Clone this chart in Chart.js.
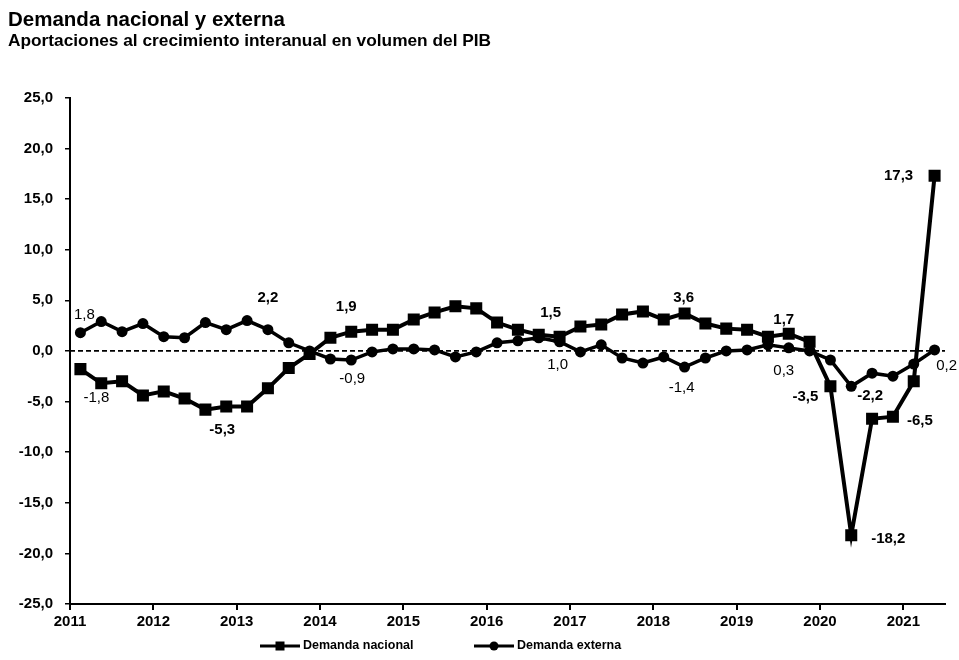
<!DOCTYPE html>
<html>
<head>
<meta charset="utf-8">
<script src="https://cdn.jsdelivr.net/npm/chart.js@4/dist/chart.umd.min.js"></script>
<style>
  html, body { margin: 0; padding: 0; background: #fff; }
  canvas { display: block; }
</style>
</head>
<body>
<canvas id="chart" width="959" height="660"></canvas>
<script>
const anos = ['2011', '2012', '2013', '2014', '2015', '2016', '2017', '2018', '2019', '2020', '2021']
const trimestres = ['T1', 'T2', 'T3', 'T4']
const categorias = anos.flatMap(a => trimestres.map(t => a + ' ' + t)).slice(0, 42)

const demandaNacional = [
  -1.8, -3.2, -3.0, -4.4, -4.0, -4.7, -5.8, -5.5, -5.5, -3.7, -1.7, -0.3,
  1.3, 1.9, 2.1, 2.1, 3.1, 3.8, 4.4, 4.2, 2.8, 2.1, 1.6, 1.4,
  2.4, 2.6, 3.6, 3.9, 3.1, 3.7, 2.7, 2.2, 2.1, 1.4, 1.7, 0.9,
  -3.5, -18.2, -6.7, -6.5, -3.0, 17.3
]
const demandaExterna = [
  1.8, 2.9, 1.9, 2.7, 1.4, 1.3, 2.8, 2.1, 3.0, 2.1, 0.8, 0.0,
  -0.8, -0.9, -0.1, 0.2, 0.2, 0.1, -0.6, -0.1, 0.8, 1.0, 1.3, 0.9,
  -0.1, 0.6, -0.7, -1.2, -0.6, -1.6, -0.7, 0.0, 0.1, 0.6, 0.3, 0.0,
  -0.9, -3.5, -2.2, -2.5, -1.3, 0.1
]

// etiquetas de valor (indice -> texto)
const etiquetasNacional = { 0: '-1,8', 7: '-5,3', 13: '1,9', 23: '1,5', 29: '3,6', 34: '1,7', 36: '-3,5', 37: '-18,2', 39: '-6,5', 41: '17,3' }
const etiquetasExterna = { 0: '1,8', 9: '2,2', 13: '-0,9', 23: '1,0', 29: '-1,4', 34: '0,3', 38: '-2,2', 41: '0,2' }

const FONT = '"Liberation Sans", Arial, Helvetica, sans-serif'

// desplazamientos de las etiquetas respecto al punto, y peso
const posEtiquetas = [
  { 0: [16, 29, 'normal'], 7: [-4, 23, 'bold'], 13: [-5, -25, 'bold'], 23: [-9, -24, 'bold'], 29: [-1, -16, 'bold'],
    34: [-5, -14, 'bold'], 36: [-25, 11, 'bold'], 37: [37, 4, 'bold'], 39: [27, 4, 'bold'], 41: [-36, 0, 'bold'] },
  { 0: [4, -18, 'normal'], 9: [0, -32, 'bold'], 13: [1, 19, 'normal'], 23: [-2, 23, 'normal'], 29: [-3, 21, 'normal'],
    34: [-5, 23, 'normal'], 38: [-2, 23, 'bold'], 41: [12, 16, 'normal'] }
]

const lineaCero = {
  id: 'lineaCero',
  beforeDatasetsDraw(chart) {
    const { ctx, chartArea } = chart
    const y = chart.scales.y.getPixelForValue(0)
    ctx.save()
    ctx.strokeStyle = '#000'
    ctx.lineWidth = 1.8
    ctx.setLineDash([5, 3])
    ctx.beginPath()
    ctx.moveTo(chartArea.left, y)
    ctx.lineTo(chartArea.right, y)
    ctx.stroke()
    ctx.restore()
  }
}

const etiquetas = {
  id: 'etiquetas',
  afterDatasetsDraw(chart) {
    const ctx = chart.ctx
    const textos = [etiquetasNacional, etiquetasExterna]
    ctx.save()
    ctx.fillStyle = '#000'
    ctx.textAlign = 'center'
    ctx.textBaseline = 'middle'
    textos.forEach((mapa, d) => {
      const meta = chart.getDatasetMeta(d)
      Object.keys(mapa).forEach(k => {
        const p = meta.data[k]
        const [dx, dy, peso] = posEtiquetas[d][k]
        ctx.font = peso + ' 15px ' + FONT
        ctx.fillText(mapa[k], p.x + dx, p.y + dy)
      })
    })
    ctx.restore()
  }
}

const leyenda = {
  id: 'leyenda',
  afterDraw(chart) {
    const ctx = chart.ctx
    const y = 646
    const items = [
      { x: 260, style: 'rect' },
      { x: 474, style: 'circle' }
    ]
    ctx.save()
    chart.data.datasets.forEach((ds, i) => {
      const it = items[i]
      ctx.strokeStyle = '#000'
      ctx.lineWidth = 3
      ctx.beginPath()
      ctx.moveTo(it.x, y)
      ctx.lineTo(it.x + 40, y)
      ctx.stroke()
      ctx.fillStyle = '#000'
      if (it.style === 'rect') {
        ctx.fillRect(it.x + 20 - 4.5, y - 4.5, 9, 9)
      } else {
        ctx.beginPath()
        ctx.arc(it.x + 20, y, 4.5, 0, Math.PI * 2)
        ctx.fill()
      }
      ctx.font = 'bold 12.5px ' + FONT
      ctx.textBaseline = 'middle'
      ctx.textAlign = 'left'
      ctx.fillText(ds.label, it.x + 43, y)
    })
    ctx.restore()
  }
}

const fmt = v => v.toFixed(1).replace('.', ',')

new Chart(document.getElementById('chart'), {
  type: 'line',
  data: {
    labels: categorias,
    datasets: [
      {
        label: 'Demanda nacional',
        data: demandaNacional,
        borderColor: '#000',
        backgroundColor: '#000',
        borderWidth: 4,
        pointStyle: 'rect',
        pointRadius: 8.5,
        pointBorderWidth: 0,
        tension: 0
      },
      {
        label: 'Demanda externa',
        data: demandaExterna,
        borderColor: '#000',
        backgroundColor: '#000',
        borderWidth: 3.5,
        pointStyle: 'circle',
        pointRadius: 5.5,
        pointBorderWidth: 0,
        tension: 0
      }
    ]
  },
  options: {
    responsive: false,
    animation: false,
    events: [],
    layout: { padding: { left: 8, right: 14, top: 0, bottom: 0 } },
    plugins: {
      legend: { display: false },
      tooltip: { enabled: false },
      title: {
        display: true,
        text: 'Demanda nacional y externa',
        align: 'start',
        color: '#000',
        font: { family: FONT, size: 20.5, weight: 'bold', lineHeight: 1 },
        padding: { top: 10, bottom: 0 }
      },
      subtitle: {
        display: true,
        text: 'Aportaciones al crecimiento interanual en volumen del PIB',
        align: 'start',
        color: '#000',
        font: { family: FONT, size: 17.3, weight: 'bold', lineHeight: 1 },
        padding: { top: 2, bottom: 48 }
      }
    },
    scales: {
      x: {
        offset: true,
        grid: {
          offset: true,
          drawOnChartArea: false,
          color: ctx => (ctx.index % 4 === 0 ? '#000' : 'rgba(0,0,0,0)'),
          lineWidth: 2,
          tickLength: 6
        },
        border: { color: '#000', width: 2 },
        ticks: {
          autoSkip: false,
          maxRotation: 0,
          labelOffset: -10.4,
          padding: 3,
          color: '#000',
          font: { family: FONT, size: 15, weight: 'bold' },
          callback: (v, i) => (i % 4 === 0 ? anos[i / 4] : '')
        },
        afterFit: s => { s.height = 56 }
      },
      y: {
        min: -25,
        max: 25,
        grid: { drawOnChartArea: false, color: '#000', lineWidth: 1.5, tickLength: 5 },
        border: { color: '#000', width: 2 },
        ticks: {
          stepSize: 5,
          padding: 12,
          color: '#000',
          font: { family: FONT, size: 15, weight: 'bold' },
          callback: v => fmt(v)
        },
        afterFit: s => { s.width = 62 }
      }
    }
  },
  plugins: [lineaCero, etiquetas, leyenda]
})
</script>
</body>
</html>
